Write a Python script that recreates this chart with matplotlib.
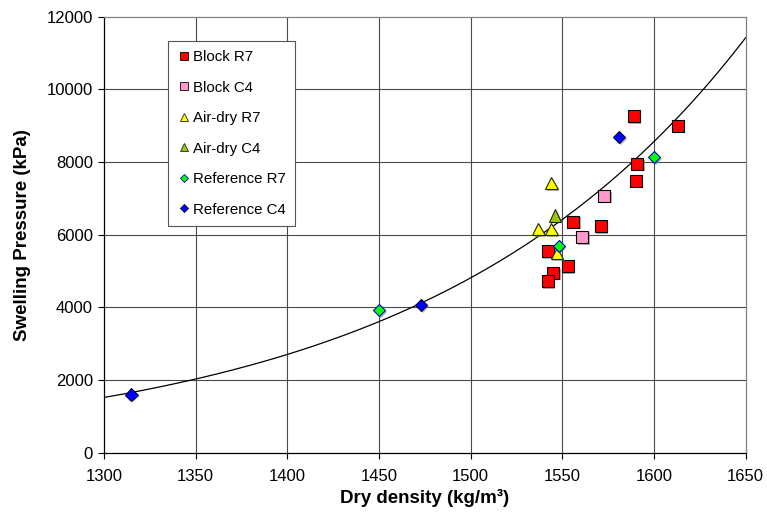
import numpy as np
import matplotlib
matplotlib.use("Agg")
import matplotlib.pyplot as plt
from matplotlib.lines import Line2D
import matplotlib.patheffects as pe

plt.rcParams['font.family'] = ['Liberation Sans', 'DejaVu Sans']

# Dry density (kg/m3) and swelling pressure (kPa) for each test series
block_r7_density = [1589, 1613, 1591, 1590, 1556, 1571, 1542, 1553, 1545, 1542]
block_r7_pressure = [9270, 9000, 7950, 7490, 6360, 6240, 5550, 5140, 4950, 4720]

block_c4_density = [1573, 1561]
block_c4_pressure = [7070, 5940]

airdry_r7_density = [1544, 1537, 1544, 1547]
airdry_r7_pressure = [7420, 6150, 6150, 5490]

airdry_c4_density = [1546]
airdry_c4_pressure = [6530]

reference_r7_density = [1450, 1548, 1600]
reference_r7_pressure = [3925, 5690, 8130]

reference_c4_density = [1315, 1473, 1581]
reference_c4_pressure = [1600, 4070, 8680]

# Exponential trendline: p = a * exp(b * (rho - 1300))
trend_a = 1520.0
trend_b = 0.005762

x_ticks = [1300, 1350, 1400, 1450, 1500, 1550, 1600, 1650]
y_ticks = [0, 2000, 4000, 6000, 8000, 10000, 12000]

W, H = 767, 519
fig = plt.figure(figsize=(W / 100, H / 100), dpi=100)
ax = fig.add_axes([104 / W, 1 - 452.7 / H, (745.6 - 104) / W, (452.7 - 16.7) / H])

grid_col = '#4a4a4a'
for v in x_ticks[1:-1]:
    ax.axvline(v, color=grid_col, lw=0.8, zorder=1)
for v in y_ticks[1:-1]:
    ax.axhline(v, color=grid_col, lw=0.8, zorder=1)

rho = np.linspace(1300, 1650, 300)
ax.plot(rho, trend_a * np.exp(trend_b * (rho - 1300)), color='black', lw=0.9, zorder=2)

series = [
    ("Block R7", block_r7_density, block_r7_pressure, 's', '#FF0000', 'black', 8.6),
    ("Block C4", block_c4_density, block_c4_pressure, 's', '#FF99CC', 'black', 8.6),
    ("Air-dry R7", airdry_r7_density, airdry_r7_pressure, '^', '#FFFF00', '#222222', 9.0),
    ("Air-dry C4", airdry_c4_density, airdry_c4_pressure, '^', '#99CC00', '#222222', 9.0),
    ("Reference R7", reference_r7_density, reference_r7_pressure, 'D', '#00FF00', '#0000CC', 6.2),
    ("Reference C4", reference_c4_density, reference_c4_pressure, 'D', '#0000FF', '#000033', 6.2),
]

shadow = [pe.SimplePatchShadow(offset=(1.2, -1.2), shadow_rgbFace='#808080', alpha=0.6),
          pe.Normal()]

handles = []
for i, (label, xs, ys, m, fc, ec, ms) in enumerate(series):
    ax.plot(xs, ys, linestyle='none', marker=m, markersize=ms,
            markerfacecolor=fc, markeredgecolor=ec, markeredgewidth=0.8,
            zorder=3 + i, path_effects=shadow)
    handles.append(Line2D([], [], linestyle='none', marker=m, markersize=ms * 0.6,
                          markerfacecolor=fc, markeredgecolor=ec,
                          markeredgewidth=0.6, label=label))

ax.set_xlim(1300, 1650)
ax.set_ylim(0, 12000)
ax.set_xticks(x_ticks)
ax.set_yticks(y_ticks)
ax.tick_params(axis='both', direction='out', length=4, width=0.8,
               labelsize=12, color='black')
ax.tick_params(axis='x', pad=8)
ax.tick_params(axis='y', pad=4)

for side in ['left', 'bottom']:
    ax.spines[side].set_color('black')
    ax.spines[side].set_linewidth(0.9)
for side in ['top', 'right']:
    ax.spines[side].set_color('#808080')
    ax.spines[side].set_linewidth(0.9)

ax.set_xlabel("Dry density (kg/m³)", fontsize=13.5, fontweight='bold', labelpad=3)
ax.set_ylabel("Swelling Pressure (kPa)", fontsize=13.5, fontweight='bold', labelpad=11)

leg = ax.legend(handles=handles, loc='upper left',
                bbox_to_anchor=(167.7 / W, 1 - 41 / H), bbox_transform=fig.transFigure,
                borderaxespad=0, fontsize=10.8, frameon=True, fancybox=False,
                edgecolor='#555555', framealpha=1, borderpad=0.6,
                labelspacing=1.1, handlelength=1.0, handletextpad=0.1)
leg.get_frame().set_linewidth(0.8)
leg.set_zorder(20)

fig.savefig("out.png", dpi=100)
